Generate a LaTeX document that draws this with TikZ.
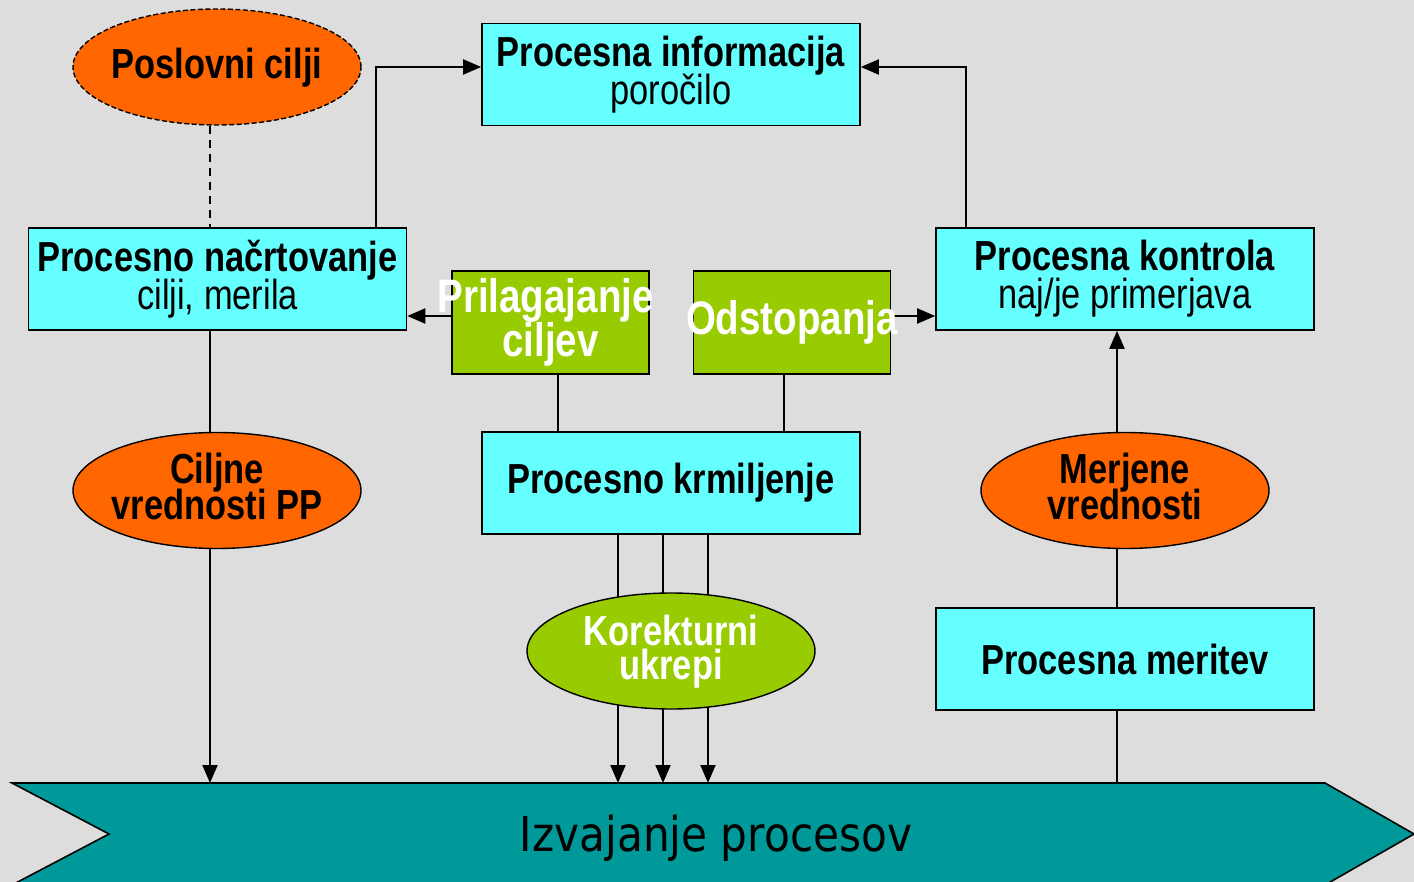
\documentclass[tikz,border=0pt]{standalone}
\usepackage{fontspec}
\setmainfont{Liberation Sans}
\newfontfamily\narrowfont[FakeStretch=0.82]{Liberation Sans}
\newfontfamily\flowfont[FakeStretch=0.88]{DejaVu Sans}
\usetikzlibrary{shapes.geometric,arrows.meta}
\definecolor{bgc}{HTML}{DDDDDD}
\definecolor{cyanbox}{HTML}{66FFFF}
\definecolor{orangeell}{HTML}{FF6600}
\definecolor{greenbox}{HTML}{99CC00}
\definecolor{tealflow}{HTML}{009999}
\pgfdeclarelayer{bg}
\pgfdeclarelayer{wires}
\pgfsetlayers{bg,wires,main}
% a line of text that may stick out of its shape
\newcommand{\ctr}[1]{\makebox[0pt]{#1}}
% fixed baseline distance even when lines would touch
\newcommand{\tightlines}{\setlength{\lineskiplimit}{-100pt}\setlength{\lineskip}{0pt}}
\tikzset{
  infobox/.style={draw, line width=1.6pt, fill=cyanbox, minimum width=378pt, minimum height=102pt,
    inner sep=0pt, align=center, font=\narrowfont\fontsize{42}{38}\selectfont\tightlines},
  actbox/.style={draw, line width=1.6pt, fill=greenbox, minimum width=197pt, minimum height=103pt,
    inner sep=0pt, align=center, text=white, font=\narrowfont\bfseries\fontsize{47}{44}\selectfont\tightlines},
  valell/.style={ellipse, draw, line width=1.4pt, fill=orangeell, minimum width=288pt, minimum height=116pt,
    inner sep=0pt, align=center, text depth=8pt, font=\narrowfont\bfseries\fontsize{42}{36}\selectfont\tightlines},
  wire/.style={line width=2pt},
  arr/.style={wire, -{Triangle[length=18pt,width=15pt]}}
}
\begin{document}
\begin{tikzpicture}[x=1pt,y=-1pt]
\useasboundingbox (0,0) rectangle (1414,882);
\begin{pgfonlayer}{bg}
  \fill[bgc] (0,0) rectangle (1414,882);
\end{pgfonlayer}
\clip (0,0) rectangle (1414,882);

% process flow band at the bottom
\draw[line width=1.6pt, fill=tealflow]
  (12,783) coordinate (ftop) -- (1325,783) -- (1414,834) -- (1325,885) -- (12,885) -- (109,834) -- cycle;
\node[font=\flowfont\fontsize{48}{48}\selectfont] (flow) at (716,838) {Izvajanje procesov};

% boxes
\node[infobox] (pi) at (671,74.5) {\textbf{Procesna informacija}\\poročilo};
\node[infobox] (pn) at (217.5,279) {\textbf{Procesno načrtovanje}\\cilji, merila};
\node[infobox] (pk) at (1125,279) {\textbf{Procesna kontrola}\\naj/je primerjava};
\node[infobox, font=\narrowfont\bfseries\fontsize{42}{38}\selectfont] (km) at (671,483) {Procesno krmiljenje};
\node[infobox, font=\narrowfont\bfseries\fontsize{42}{38}\selectfont] (pm) at (1125,659) {Procesna meritev};

\node[actbox] (pr) at (550.5,322.5) {\ctr{\hspace{-10pt}Prilagajanje}\\\ctr{ciljev}};
\node[actbox] (od) at (792,322.5) {\ctr{Odstopanja}};

% ellipses
\node[valell, dashed, dash pattern=on 5pt off 2.5pt] (pc) at (217,67) {\ctr{Poslovni cilji}};
\node[valell] (cv) at (217,490.5) {\ctr{Ciljne}\\\ctr{vrednosti PP}};
\node[valell] (mv) at (1125,490.5) {\ctr{Merjene}\\\ctr{vrednosti}};
\node[valell, fill=greenbox, text=white, font=\narrowfont\bfseries\fontsize{42}{34}\selectfont\tightlines] (ku) at (671,651) {\ctr{Korekturni}\\\ctr{ukrepi}};

% connectors
\begin{pgfonlayer}{wires}
  \draw[wire, dash pattern=on 8pt off 6pt] ([xshift=-7pt]pc.south) -- ([xshift=-7pt]pc.south |- pn.north);
  \draw[arr] ([xshift=158.5pt]pn.north) |- ([yshift=7.5pt]pi.west);
  \draw[arr] ([xshift=-159pt]pk.north) |- ([yshift=7.5pt]pi.east);
  \draw[arr] (pr.west |- 0,316) -- (pn.east |- 0,316);
  \draw[arr] (od.east |- 0,316) -- (pk.west |- 0,316);
  \draw[wire] ([xshift=7.5pt]pr.south) -- ([xshift=7.5pt]pr.south |- km.north);
  \draw[wire] ([xshift=-8pt]od.south) -- ([xshift=-8pt]od.south |- km.north);
  \draw[arr] ([xshift=-7.5pt]pn.south) -- ([xshift=-7.5pt]pn.south |- ftop);
  \foreach \dx in {-53,-8,37} {
    \draw[wire] ([xshift=\dx pt]km.south) -- ([xshift=\dx pt]km.south |- ku.center);
    \draw[arr] ([xshift=\dx pt]km.south |- ku.center) -- ([xshift=\dx pt]km.south |- ftop);
  }
  \draw[arr] ([xshift=-8pt]mv.center) -- ([xshift=-8pt]pk.south);
  \draw[wire] ([xshift=-8pt]pm.north) -- ([xshift=-8pt]mv.center);
  \draw[wire] ([xshift=-8pt]pm.south) -- ([xshift=-8pt]pm.south |- ftop);
\end{pgfonlayer}
\end{tikzpicture}
\end{document}
